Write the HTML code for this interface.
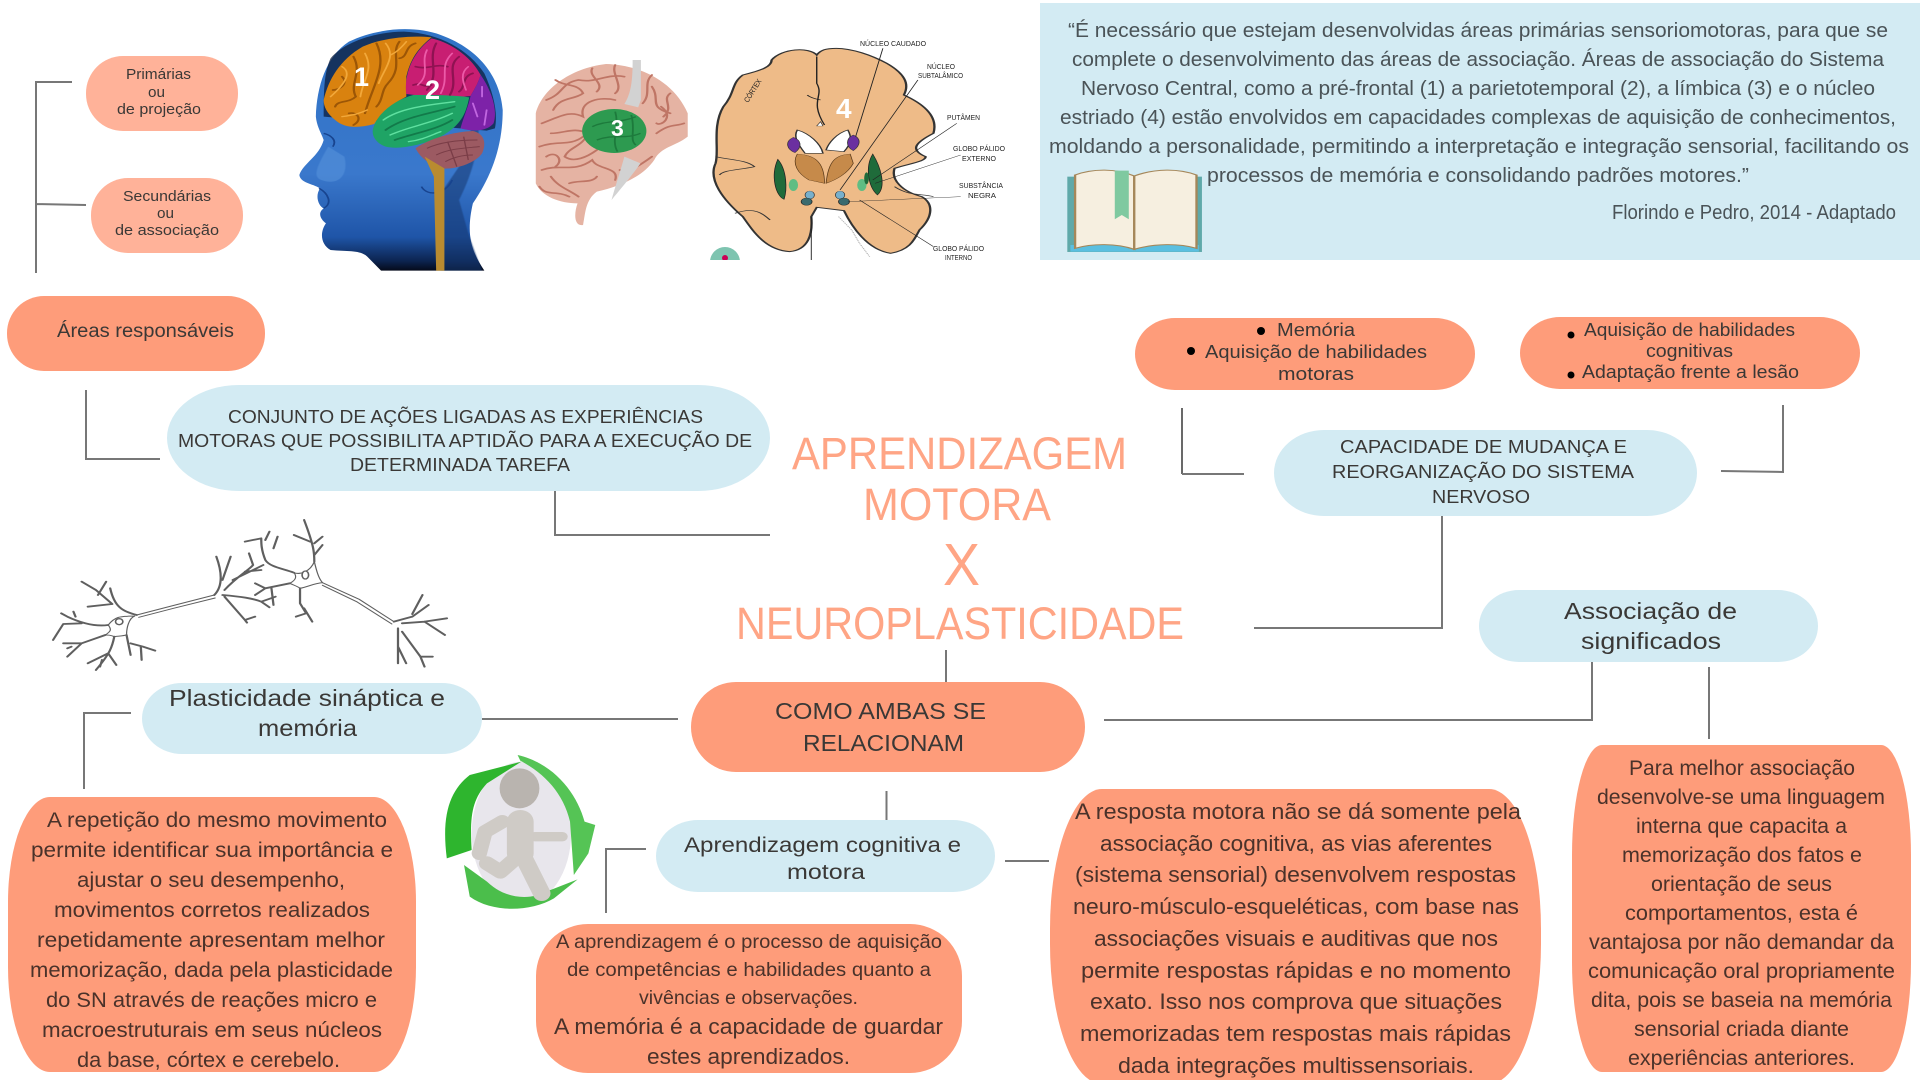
<!DOCTYPE html>
<html lang="pt">
<head>
<meta charset="utf-8">
<title>Aprendizagem motora x Neuroplasticidade</title>
<style>
html,body{margin:0;padding:0;background:#fff;width:1920px;height:1080px;overflow:hidden}
svg{display:block}
text{font-family:"Liberation Sans",sans-serif;fill:#3a3836}
.ln{fill:none;stroke:#777;stroke-width:2}
.or{fill:#fe9c7a}.lo{fill:#ffb299}.bl{fill:#d3ebf3}
.t{fill:#ffa585;font-size:45px}
.q{font-size:20px;fill:#4a5357}
.r{font-size:21.5px;fill:#4a322a}
.s{font-size:22px;fill:#4a322a}
.p{font-size:21px;fill:#4a322a}
.a{font-size:19.5px;fill:#4a322a}
.a2{font-size:22px;fill:#4a322a}
.c{font-size:18.5px}
.n{font-size:23px}
.sm{font-size:15px}
.bu{font-size:18px}
.lab{font-size:7.5px;fill:#222}
.num{font-weight:bold;fill:#fff}
.d{fill:none;stroke:#5f5f5f;stroke-linecap:round;stroke-linejoin:round}
</style>
</head>
<body>
<svg width="1920" height="1080" viewBox="0 0 1920 1080" xmlns="http://www.w3.org/2000/svg">
<defs>
<linearGradient id="hg" x1="0" y1="0" x2="0" y2="1">
<stop offset="0" stop-color="#2f73c6"/><stop offset=".6" stop-color="#3a78cc"/><stop offset=".86" stop-color="#1f55a8"/><stop offset=".96" stop-color="#0c2450"/><stop offset="1" stop-color="#050a1a"/>
</linearGradient>
<clipPath id="cb"><rect x="700" y="0" width="320" height="260"/></clipPath>
<filter id="soft" x="-5%" y="-5%" width="110%" height="110%"><feGaussianBlur stdDeviation="1"/></filter>
<filter id="soft2" x="-5%" y="-5%" width="110%" height="110%"><feGaussianBlur stdDeviation=".6"/></filter>
</defs>
<rect width="1920" height="1080" fill="#fff"/>

<!-- connectors -->
<path class="ln" d="M72 82H36V273M36 204L86 205"/>
<path class="ln" d="M86 390V459H160"/>
<path class="ln" d="M555 491V535H770"/>
<path class="ln" style="stroke:#444;stroke-width:1.6" d="M1182 408V474"/><path class="ln" d="M1182 474H1244"/>
<path class="ln" d="M1721 471L1783 472V405"/>
<path class="ln" d="M1442 516V628H1254"/>
<path class="ln" d="M946 650V682"/>
<path class="ln" d="M1104 720H1592V662"/>
<path class="ln" d="M1709 667V739"/>
<path class="ln" d="M482 719H678"/>
<path class="ln" d="M131 713H84V789"/>
<path class="ln" d="M886.500 791V820"/>
<path class="ln" d="M646 849H606V913"/>
<path class="ln" d="M1005 861H1049"/>

<!-- top-left bubbles -->
<rect class="lo" x="86" y="56" width="152" height="75" rx="37" ry="37"/>
<text class="sm" x="126" y="79" textLength="65" lengthAdjust="spacingAndGlyphs">Primárias</text>
<text class="sm" x="148" y="97" textLength="17" lengthAdjust="spacingAndGlyphs">ou</text>
<text class="sm" x="117" y="114" textLength="84" lengthAdjust="spacingAndGlyphs">de projeção</text>
<rect class="lo" x="91" y="178" width="152" height="75" rx="37" ry="37"/>
<text class="sm" x="123" y="201" textLength="88" lengthAdjust="spacingAndGlyphs">Secundárias</text>
<text class="sm" x="157" y="218" textLength="17" lengthAdjust="spacingAndGlyphs">ou</text>
<text class="sm" x="115" y="235" textLength="104" lengthAdjust="spacingAndGlyphs">de associação</text>
<rect class="or" x="7" y="296" width="258" height="75" rx="37" ry="37"/>
<text style="font-size:19px" x="57" y="337" textLength="177" lengthAdjust="spacingAndGlyphs">Áreas responsáveis</text>

<!-- head -->
<g transform="scale(0.4591,0.3333)">
<path fill="url(#hg)" d="M1055 812C1025 750 1015 700 1030 610C1070 530 1095 440 1095 330C1090 240 1050 150 960 105C900 75 820 85 760 125C710 170 690 260 688 350C690 380 700 400 705 420C695 470 660 490 652 525C655 550 680 550 697 565C685 590 695 620 705 625C690 640 700 660 710 670C695 700 700 735 720 750C760 755 785 750 800 770L830 812Z"/>
<path fill="#15386f" opacity=".55" filter="url(#soft)" d="M1040 330C1050 420 1030 520 1000 600L1020 700L1050 812H960L950 600L1000 500Z"/>
<path fill="#5f9be0" opacity=".45" filter="url(#soft)" d="M715 440C690 500 680 530 700 540C740 560 760 520 750 470Z"/>
<path fill="none" stroke="#18448f" stroke-width="4" d="M695 565C715 580 725 610 705 625M705 400C720 405 735 420 725 440M918 560C930 590 970 585 985 540"/>
<path fill="#0c1d3c" opacity=".75" d="M720 175C750 125 820 95 880 95C960 100 1020 150 1055 220C1075 280 1085 340 1078 385L1060 392L705 350C705 280 705 220 720 175Z"/>
<path fill="#d9820f" d="M705 300C715 240 740 180 790 140C830 115 890 105 940 112C915 140 895 170 885 230L885 290C850 315 830 340 815 372C780 385 750 385 730 360C712 340 705 320 705 300Z"/>
<path fill="#c81e72" d="M940 115C990 130 1030 180 1047 225C1040 255 1032 270 1025 288C980 295 930 290 885 282C880 230 895 160 940 115Z"/>
<path fill="#7d22a8" d="M1047 225C1070 270 1085 330 1075 370C1060 395 1030 395 1003 385C1010 350 1020 320 1025 288C1032 270 1040 255 1047 225Z"/>
<path fill="#1fa465" d="M812 390C820 340 860 300 900 285C950 285 990 285 1022 292C1015 340 1005 375 960 410C920 435 870 450 840 440C820 430 810 410 812 390Z"/>
<path fill="#9c5a62" d="M905 445C935 415 990 395 1030 393C1055 400 1060 430 1050 460C1035 490 990 510 960 505C930 490 915 470 905 445Z"/>
<path fill="#b98b30" d="M925 470L968 505V812H950L945 530Z"/>
<g fill="none" stroke="#9c5606" stroke-width="5" stroke-linecap="round">
<path d="M770 170C790 220 760 250 775 290C760 310 735 300 730 320M820 130C845 200 810 260 795 340M870 125C850 160 880 200 845 250C830 270 835 300 820 320M745 230C760 250 740 270 725 270M760 340C780 335 790 360 770 375M905 130C880 140 890 170 870 175"/>
</g>
<g fill="none" stroke="#f2a83a" stroke-width="4" stroke-linecap="round">
<path d="M745 200C770 220 745 260 720 290M795 160C815 210 790 240 785 290M840 130C865 170 835 210 825 250M885 125C870 150 860 160 850 165M745 350C770 345 785 340 800 330"/>
</g>
<g fill="none" stroke="#8f1252" stroke-width="5" stroke-linecap="round">
<path d="M950 130C930 180 960 220 930 270M1000 170C970 200 1000 240 980 285M905 200C930 210 950 190 975 200M1030 220C1005 230 1015 260 1000 275M900 255C920 245 920 265 940 255"/>
</g>
<g fill="none" stroke="#ec5aa8" stroke-width="4" stroke-linecap="round">
<path d="M930 150C915 190 940 220 910 255M985 160C955 200 980 230 960 280M1020 200C1000 220 1010 250 1015 270"/>
</g>
<g fill="none" stroke="#127a4a" stroke-width="5" stroke-linecap="round">
<path d="M840 390C880 350 940 340 990 320M860 420C900 400 950 390 985 360"/>
</g>
<g fill="none" stroke="#5fe0a0" stroke-width="4" stroke-linecap="round">
<path d="M835 360C870 325 930 315 990 305M850 405C890 380 940 370 985 340M890 425C920 420 940 405 960 395"/>
</g>
<g fill="none" stroke="#c166e0" stroke-width="4" stroke-linecap="round"><path d="M1050 260V290M1030 310L1040 350M1060 330L1055 375"/></g>
<g fill="none" stroke="#7a3d47" stroke-width="3"><path d="M930 445C960 425 1000 420 1040 420M950 465C980 445 1010 445 1045 440M970 485C990 470 1010 465 1030 465M975 425L995 500M1010 410L1020 480"/></g>
</g>
<text class="num" style="font-size:27px" x="354" y="86">1</text>
<text class="num" style="font-size:27px" x="425" y="99">2</text>

<!-- brain 3 -->
<g transform="scale(0.4591,0.3333)">
<path fill="#e5b3a3" d="M1167 340C1180 270 1240 205 1320 192C1400 195 1470 250 1498 340V410C1470 440 1440 440 1425 480C1400 530 1350 560 1300 575C1275 600 1275 640 1270 675C1250 680 1250 640 1258 610C1220 610 1180 590 1167 550Z"/>
<g fill="none" stroke="#bf7565" stroke-width="5" stroke-linecap="round">
<path d="M1190 300C1230 280 1220 250 1260 240C1300 250 1320 220 1360 230M1180 370C1220 350 1240 330 1270 350C1260 300 1310 290 1340 300M1175 440C1215 420 1240 440 1270 410M1180 510C1220 490 1250 520 1290 480C1300 510 1350 500 1340 540M1420 260C1440 300 1410 320 1460 340M1430 400C1460 370 1470 380 1490 370M1240 590C1210 570 1190 590 1175 560"/>
<path d="M1210 240C1230 260 1260 250 1270 280C1250 300 1220 290 1205 330M1290 205C1280 230 1320 250 1300 275M1340 195C1330 220 1360 260 1340 280M1420 225C1400 250 1420 280 1400 310M1460 280C1440 300 1470 320 1445 350M1200 400C1230 400 1250 380 1280 400C1270 440 1240 440 1230 470C1250 490 1280 470 1300 450M1190 470C1210 450 1230 480 1210 500M1350 510C1370 520 1400 490 1420 470M1300 530C1290 550 1260 540 1240 550M1200 530C1215 560 1240 570 1260 590M1440 320C1470 350 1440 380 1430 370"/>
</g>
<path fill="#d2d2d2" d="M1378 180H1396V300L1390 322L1360 312C1375 280 1378 240 1378 180ZM1360 470L1395 490C1375 530 1350 570 1332 600C1340 560 1350 520 1360 470Z"/>
<ellipse cx="1338" cy="393" rx="70" ry="66" fill="#2d9a50"/>
<path fill="none" stroke="#1d7a3c" stroke-width="4" d="M1290 380C1320 360 1350 370 1385 350M1300 420C1340 400 1360 420 1395 400M1340 335C1350 380 1330 420 1345 455M1375 345C1385 390 1370 420 1385 435"/>
</g>
<text class="num" style="font-size:23px" x="611" y="136">3</text>

<!-- brain 4 -->
<g clip-path="url(#cb)">
<g transform="translate(700,0) scale(0.7782,0.3333)">
<path fill="#eebb88" stroke="#333" stroke-width="3" d="M150 165C140 140 105 145 92 180C92 200 80 210 55 225C40 250 45 280 30 320C15 380 25 450 20 490C10 540 30 600 55 650C70 700 85 750 115 755C140 750 145 700 143 650L150 622L185 632C195 680 215 750 245 760C270 750 275 720 282 690C300 650 300 610 285 590C260 575 245 540 250 505C270 490 290 485 290 470C270 450 275 430 300 400C305 360 295 320 262 285C270 250 262 220 240 190C220 165 195 145 175 145C162 145 155 150 150 165Z"/>
<path fill="none" stroke="#333" stroke-width="2" d="M20 470C40 480 60 480 70 500C50 510 30 510 25 525M300 590C285 580 270 590 250 560M45 640C70 620 80 640 90 660"/>
<path fill="#fff" stroke="#333" stroke-width="2" d="M125 390C140 400 155 430 158 460H135C125 430 120 410 125 390ZM190 390C175 400 165 430 162 450L185 455C195 430 195 410 190 390Z"/>
<path fill="#6b2fa0" stroke="#333" d="M120 412C130 420 132 440 122 458C112 450 108 425 120 412ZM197 405C207 415 207 435 197 452C187 440 187 415 197 405Z"/>
<path fill="#c68a4a" stroke="#5a3a1a" d="M125 462C145 465 160 480 160 550L140 540C125 520 118 490 125 462ZM193 462C175 465 165 480 162 550C175 540 190 520 197 490Z"/>
<path fill="#1f6b3a" stroke="#222" d="M100 478C112 510 112 570 108 598C98 590 90 530 100 478ZM222 462C232 500 240 560 228 585C216 560 212 500 222 462Z"/>
<ellipse cx="120" cy="555" rx="6" ry="18" fill="#5fbd83"/>
<ellipse cx="208" cy="555" rx="6" ry="18" fill="#5fbd83"/>
<ellipse cx="214" cy="535" rx="3" ry="18" fill="#1f6b3a"/>
<ellipse cx="141" cy="585" rx="6" ry="12" fill="#78b0cc" stroke="#333"/>
<ellipse cx="180" cy="585" rx="6" ry="12" fill="#78b0cc" stroke="#333"/>
<ellipse cx="137" cy="605" rx="7" ry="11" fill="#3a6a6e" stroke="#222"/>
<ellipse cx="185" cy="605" rx="7" ry="11" fill="#3a6a6e" stroke="#222"/>
<path fill="none" stroke="#222" stroke-width="1.800" d="M150 170V250C160 290 140 300 160 375M155 300C145 295 140 290 138 285"/>
<path fill="none" stroke="#222" stroke-width="1.200" d="M235 145L200 410M280 240L180 570M330 370L222 540M335 465L225 550M335 590L190 605M300 740L205 600M143 650V780"/>
<path fill="#fff" stroke="#222" d="M150 378L158 378L155 365Z"/>
<path fill="none" stroke="#aaa" stroke-width="1.500" stroke-dasharray="3 2" d="M178 650L195 690L205 730L218 770"/>
</g>
<circle cx="725" cy="262" r="15" fill="#7ec4b0"/><circle cx="725" cy="258" r="3" fill="#c05"/>
</g>
<text class="lab" x="860" y="46" textLength="66" lengthAdjust="spacingAndGlyphs">NÚCLEO CAUDADO</text>
<text class="lab" x="927" y="69" textLength="28" lengthAdjust="spacingAndGlyphs">NÚCLEO</text>
<text class="lab" x="918" y="78" textLength="45" lengthAdjust="spacingAndGlyphs">SUBTALÂMICO</text>
<text class="lab" x="947" y="120" textLength="33" lengthAdjust="spacingAndGlyphs">PUTÂMEN</text>
<text class="lab" x="953" y="151" textLength="52" lengthAdjust="spacingAndGlyphs">GLOBO PÁLIDO</text>
<text class="lab" x="962" y="161" textLength="34" lengthAdjust="spacingAndGlyphs">EXTERNO</text>
<text class="lab" x="959" y="188" textLength="44" lengthAdjust="spacingAndGlyphs">SUBSTÂNCIA</text>
<text class="lab" x="968" y="198" textLength="28" lengthAdjust="spacingAndGlyphs">NEGRA</text>
<text class="lab" x="933" y="251" textLength="51" lengthAdjust="spacingAndGlyphs">GLOBO PÁLIDO</text>
<text class="lab" x="945" y="260" textLength="27" lengthAdjust="spacingAndGlyphs">INTERNO</text>
<text class="lab" transform="translate(748,103) rotate(-58)" x="0" y="0" textLength="26" lengthAdjust="spacingAndGlyphs">CÓRTEX</text>
<text class="num" style="font-size:28px" x="836" y="118">4</text>

<!-- quote -->
<rect class="bl" x="1040" y="3" width="880" height="257"/>
<text class="q" x="1068" y="37" textLength="820" lengthAdjust="spacingAndGlyphs">“É necessário que estejam desenvolvidas áreas primárias sensoriomotoras, para que se</text>
<text class="q" x="1072" y="66" textLength="812" lengthAdjust="spacingAndGlyphs">complete o desenvolvimento das áreas de associação. Áreas de associação do Sistema</text>
<text class="q" x="1081" y="95" textLength="794" lengthAdjust="spacingAndGlyphs">Nervoso Central, como a pré-frontal (1) a parietotemporal (2), a límbica (3) e o núcleo</text>
<text class="q" x="1060" y="124" textLength="836" lengthAdjust="spacingAndGlyphs">estriado (4) estão envolvidos em capacidades complexas de aquisição de conhecimentos,</text>
<text class="q" x="1049" y="153" textLength="860" lengthAdjust="spacingAndGlyphs">moldando a personalidade, permitindo a interpretação e integração sensorial, facilitando os</text>
<text class="q" x="1207" y="182" textLength="542" lengthAdjust="spacingAndGlyphs">processos de memória e consolidando padrões motores.”</text>
<text class="q" x="1612" y="219" textLength="284" lengthAdjust="spacingAndGlyphs">Florindo e Pedro, 2014 - Adaptado</text>

<!-- book -->
<g transform="translate(700,0) scale(0.7782,0.3333)">
<rect x="472" y="530" width="173" height="226" fill="#5fa9a9"/>
<rect x="476" y="735" width="165" height="20" fill="#5bbfe0"/>
<path fill="#f6efe0" stroke="#a5875a" stroke-width="3" d="M482 525C505 505 535 505 558 528V748C535 730 505 730 482 745Z"/>
<path fill="#f6efe0" stroke="#a5875a" stroke-width="3" d="M558 528C585 505 615 505 638 525V745C615 730 585 730 558 748Z"/>
<path fill="#7fc9a0" d="M533 512H551V658L542 645L533 658Z"/>
</g>

<!-- conjunto -->
<rect class="bl" x="167" y="385" width="603" height="106" rx="72" ry="53"/>
<text class="c" x="228" y="423" textLength="475" lengthAdjust="spacingAndGlyphs">CONJUNTO DE AÇÕES LIGADAS AS EXPERIÊNCIAS</text>
<text class="c" x="178" y="447" textLength="574" lengthAdjust="spacingAndGlyphs">MOTORAS QUE POSSIBILITA APTIDÃO PARA A EXECUÇÃO DE</text>
<text class="c" x="350" y="471" textLength="220" lengthAdjust="spacingAndGlyphs">DETERMINADA TAREFA</text>

<!-- title -->
<text class="t" x="792" y="469" textLength="335" lengthAdjust="spacingAndGlyphs">APRENDIZAGEM</text>
<text class="t" x="863" y="520" textLength="188" lengthAdjust="spacingAndGlyphs">MOTORA</text>
<text class="t" style="font-size:59px" x="943" y="585" textLength="37" lengthAdjust="spacingAndGlyphs">X</text>
<text class="t" x="736" y="639" textLength="448" lengthAdjust="spacingAndGlyphs">NEUROPLASTICIDADE</text>

<!-- right top bubbles -->
<rect class="or" x="1135" y="318" width="340" height="72" rx="40" ry="36"/>
<circle cx="1261" cy="331" r="4" fill="#000"/>
<text class="bu" x="1277" y="336" textLength="78" lengthAdjust="spacingAndGlyphs">Memória</text>
<circle cx="1191" cy="351" r="4" fill="#000"/>
<text class="bu" x="1205" y="358" textLength="222" lengthAdjust="spacingAndGlyphs">Aquisição de habilidades</text>
<text class="bu" x="1278" y="380" textLength="76" lengthAdjust="spacingAndGlyphs">motoras</text>
<rect class="or" x="1520" y="317" width="340" height="72" rx="40" ry="36"/>
<circle cx="1571" cy="335" r="3.500" fill="#000"/>
<text class="bu" x="1584" y="336" textLength="211" lengthAdjust="spacingAndGlyphs">Aquisição de habilidades</text>
<text class="bu" x="1646" y="357" textLength="87" lengthAdjust="spacingAndGlyphs">cognitivas</text>
<circle cx="1571" cy="375" r="3.500" fill="#000"/>
<text class="bu" x="1582" y="378" textLength="217" lengthAdjust="spacingAndGlyphs">Adaptação frente a lesão</text>

<rect class="bl" x="1274" y="430" width="423" height="86" rx="50" ry="43"/>
<text class="c" x="1340" y="453" textLength="287" lengthAdjust="spacingAndGlyphs">CAPACIDADE DE MUDANÇA E</text>
<text class="c" x="1332" y="478" textLength="302" lengthAdjust="spacingAndGlyphs">REORGANIZAÇÃO DO SISTEMA</text>
<text class="c" x="1432" y="503" textLength="98" lengthAdjust="spacingAndGlyphs">NERVOSO</text>

<rect class="bl" x="1479" y="590" width="339" height="72" rx="40" ry="36"/>
<text class="n" x="1564" y="619" textLength="173" lengthAdjust="spacingAndGlyphs">Associação de</text>
<text class="n" x="1581" y="649" textLength="140" lengthAdjust="spacingAndGlyphs">significados</text>

<!-- neuron -->
<g transform="translate(0,500) scale(0.4082,0.3333)">
<g class="d" style="stroke-width:5.500">
<path d="M335 345C300 335 280 320 270 265M275 312L235 270L200 245M240 285L260 245M275 312L215 320"/>
<path d="M265 375C235 380 200 370 165 350L150 340M200 370L155 372L130 420M185 350L180 335"/>
<path d="M258 405L200 430L165 470M200 430L155 430M175 440L165 445"/>
<path d="M280 410C275 440 270 460 235 510M265 460L215 490M265 460L285 495M250 480L245 500"/>
<path d="M310 405L320 465M320 430L350 440L380 452M345 440L347 480"/>
<path d="M525 285C545 260 545 220 530 170M545 240L565 170M550 270C580 230 610 210 620 195L610 160M570 240L645 195M600 215L640 210"/>
<path d="M545 285C590 290 620 295 640 305L675 290M640 305L660 322M550 290L600 360L625 350M600 360L605 368"/>
<path d="M720 218C690 205 660 200 650 180C640 150 640 130 640 115L600 125M660 95L650 120M680 110L670 145"/>
<path d="M770 185C770 160 770 140 745 60M770 130L790 110M720 105L760 125M770 165L790 135"/>
<path d="M710 250L650 265L625 250M650 265L625 285M665 265L670 315"/>
<path d="M735 265L735 310L750 340L725 350M745 325L765 365"/>
<path d="M965 365L1010 350L1050 315M1010 342L1035 285M985 370L1040 365L1095 355M1040 365L1090 405"/>
<path d="M975 385V490M975 440L995 490M985 395L1030 470L1060 470M1030 470L1040 500"/>
</g>
<g class="d" style="stroke-width:3">
<path d="M335 345L420 318L525 285M340 352L425 325L527 294"/>
<path d="M790 248L880 298L965 365M790 256L875 306L960 372"/>
<path d="M330 348C315 355 310 385 310 405M265 375C285 345 300 350 330 348M258 405C270 395 275 390 265 375M280 410C270 405 265 405 258 405M310 405C300 408 290 408 280 410"/>
<path d="M790 248C770 250 755 260 735 265M720 218C735 225 760 215 770 185M770 185C775 210 780 235 790 248M710 250C725 240 728 230 720 218M735 265C728 258 718 255 710 250"/>
</g>
<ellipse cx="292" cy="365" rx="9" ry="9" fill="#fff" stroke="#5f5f5f" stroke-width="4"/>
<ellipse cx="748" cy="225" rx="8" ry="12" fill="#fff" stroke="#5f5f5f" stroke-width="4"/>
</g>

<!-- plasticidade -->
<rect class="bl" x="142" y="683" width="340" height="71" rx="40" ry="35.500"/>
<text class="n" x="169" y="706" textLength="276" lengthAdjust="spacingAndGlyphs">Plasticidade sináptica e</text>
<text class="n" x="258" y="736" textLength="99" lengthAdjust="spacingAndGlyphs">memória</text>

<!-- como ambas -->
<rect class="or" x="691" y="682" width="394" height="90" rx="45" ry="45"/>
<text class="n" x="775" y="719" textLength="211" lengthAdjust="spacingAndGlyphs">COMO AMBAS SE</text>
<text class="n" x="803" y="751" textLength="161" lengthAdjust="spacingAndGlyphs">RELACIONAM</text>

<!-- repetition -->
<rect class="or" x="8" y="797" width="408" height="275" rx="42" ry="105"/>
<text class="r" x="47" y="827" textLength="340" lengthAdjust="spacingAndGlyphs">A repetição do mesmo movimento</text>
<text class="r" x="31" y="857" textLength="362" lengthAdjust="spacingAndGlyphs">permite identificar sua importância e</text>
<text class="r" x="77" y="887" textLength="268" lengthAdjust="spacingAndGlyphs">ajustar o seu desempenho,</text>
<text class="r" x="54" y="917" textLength="316" lengthAdjust="spacingAndGlyphs">movimentos corretos realizados</text>
<text class="r" x="37" y="947" textLength="348" lengthAdjust="spacingAndGlyphs">repetidamente apresentam melhor</text>
<text class="r" x="30" y="977" textLength="363" lengthAdjust="spacingAndGlyphs">memorização, dada pela plasticidade</text>
<text class="r" x="46" y="1007" textLength="331" lengthAdjust="spacingAndGlyphs">do SN através de reações micro e</text>
<text class="r" x="42" y="1037" textLength="340" lengthAdjust="spacingAndGlyphs">macroestruturais em seus núcleos</text>
<text class="r" x="77" y="1067" textLength="263" lengthAdjust="spacingAndGlyphs">da base, córtex e cerebelo.</text>

<!-- running figure -->
<g transform="translate(420,740) scale(0.3827,0.3333)" filter="url(#soft)">
<ellipse cx="265" cy="280" rx="130" ry="215" fill="#e8e6ec"/>
<path fill="#2fb52f" d="M70 355C55 220 80 150 130 105L265 65L175 130C135 180 130 230 135 330Z"/>
<path fill="#55c455" d="M255 45C350 70 410 160 430 245L458 255L440 340L402 405L392 245C375 160 325 100 262 62Z"/>
<path fill="#4cbe4c" d="M115 375L175 425C225 480 290 480 330 455L412 418L350 475C290 515 190 520 130 470Z"/>
<g fill="none" stroke="#cfcbc6" stroke-linecap="round" stroke-linejoin="round">
<path stroke-width="40" d="M215 245L170 275L155 340"/>
<path stroke-width="28" d="M300 290L372 290"/>
<path stroke-width="70" d="M262 245V340"/>
<path stroke-width="46" d="M270 350L318 460"/>
<path stroke-width="42" d="M240 365L210 395L175 370"/>
</g>
<ellipse cx="260" cy="145" rx="52" ry="60" fill="#b9b4af"/>
</g>

<!-- aprendizagem -->
<rect class="bl" x="656" y="820" width="339" height="72" rx="42" ry="36"/>
<text class="n" style="font-size:21.500px" x="684" y="852" textLength="277" lengthAdjust="spacingAndGlyphs">Aprendizagem cognitiva e</text>
<text class="n" style="font-size:21.500px" x="787" y="879" textLength="78" lengthAdjust="spacingAndGlyphs">motora</text>
<rect class="or" x="536" y="924" width="426" height="149" rx="52" ry="52"/>
<text class="a" x="556" y="948" textLength="386" lengthAdjust="spacingAndGlyphs">A aprendizagem é o processo de aquisição</text>
<text class="a" x="567" y="976" textLength="364" lengthAdjust="spacingAndGlyphs">de competências e habilidades quanto a</text>
<text class="a" x="639" y="1004" textLength="219" lengthAdjust="spacingAndGlyphs">vivências e observações.</text>
<text class="a2" x="554" y="1034" textLength="389" lengthAdjust="spacingAndGlyphs">A memória é a capacidade de guardar</text>
<text class="a2" x="647" y="1064" textLength="203" lengthAdjust="spacingAndGlyphs">estes aprendizados.</text>

<!-- resposta -->
<rect class="or" x="1050" y="789" width="491" height="295" rx="52" ry="140"/>
<text class="s" x="1075" y="819" textLength="446" lengthAdjust="spacingAndGlyphs">A resposta motora não se dá somente pela</text>
<text class="s" x="1100" y="851" textLength="392" lengthAdjust="spacingAndGlyphs">associação cognitiva, as vias aferentes</text>
<text class="s" x="1075" y="882" textLength="441" lengthAdjust="spacingAndGlyphs">(sistema sensorial) desenvolvem respostas</text>
<text class="s" x="1073" y="914" textLength="446" lengthAdjust="spacingAndGlyphs">neuro-músculo-esqueléticas, com base nas</text>
<text class="s" x="1094" y="946" textLength="404" lengthAdjust="spacingAndGlyphs">associações visuais e auditivas que nos</text>
<text class="s" x="1081" y="978" textLength="430" lengthAdjust="spacingAndGlyphs">permite respostas rápidas e no momento</text>
<text class="s" x="1090" y="1009" textLength="412" lengthAdjust="spacingAndGlyphs">exato. Isso nos comprova que situações</text>
<text class="s" x="1080" y="1041" textLength="431" lengthAdjust="spacingAndGlyphs">memorizadas tem respostas mais rápidas</text>
<text class="s" x="1118" y="1073" textLength="356" lengthAdjust="spacingAndGlyphs">dada integrações multissensoriais.</text>

<!-- para -->
<rect class="or" x="1572" y="745" width="339" height="327" rx="30" ry="110"/>
<text class="p" x="1629" y="775" textLength="226" lengthAdjust="spacingAndGlyphs">Para melhor associação</text>
<text class="p" x="1597" y="804" textLength="288" lengthAdjust="spacingAndGlyphs">desenvolve-se uma linguagem</text>
<text class="p" x="1636" y="833" textLength="211" lengthAdjust="spacingAndGlyphs">interna que capacita a</text>
<text class="p" x="1622" y="862" textLength="240" lengthAdjust="spacingAndGlyphs">memorização dos fatos e</text>
<text class="p" x="1651" y="891" textLength="181" lengthAdjust="spacingAndGlyphs">orientação de seus</text>
<text class="p" x="1625" y="920" textLength="233" lengthAdjust="spacingAndGlyphs">comportamentos, esta é</text>
<text class="p" x="1589" y="949" textLength="305" lengthAdjust="spacingAndGlyphs">vantajosa por não demandar da</text>
<text class="p" x="1588" y="978" textLength="307" lengthAdjust="spacingAndGlyphs">comunicação oral propriamente</text>
<text class="p" x="1591" y="1007" textLength="301" lengthAdjust="spacingAndGlyphs">dita, pois se baseia na memória</text>
<text class="p" x="1634" y="1036" textLength="215" lengthAdjust="spacingAndGlyphs">sensorial criada diante</text>
<text class="p" x="1628" y="1065" textLength="227" lengthAdjust="spacingAndGlyphs">experiências anteriores.</text>
</svg>
</body>
</html>
